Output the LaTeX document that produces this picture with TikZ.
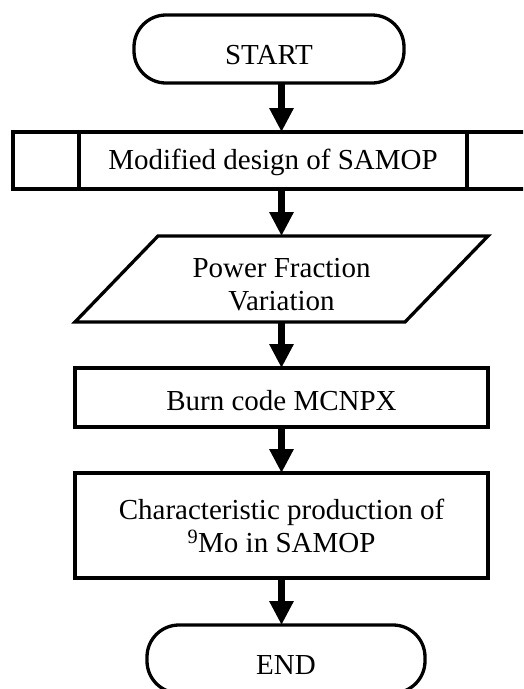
\documentclass[tikz,border=0pt]{standalone}
\usepackage{fontspec}
\setmainfont{Liberation Serif}
\usetikzlibrary{arrows.meta}
\begin{document}
\begin{tikzpicture}[x=1pt,y=-1pt,
  txt/.style={inner sep=0pt, outer sep=0pt, align=center, font=\fontsize{29}{33}\selectfont},
  box/.style={txt, draw, line width=3.3pt, rectangle},
  term/.style={box, rounded corners=32pt, text height=31pt, text depth=0pt},
  sideline/.style={line width=3.3pt},
  arr/.style={line width=7pt, -{Triangle[length=24pt,width=23pt]}}]
\useasboundingbox (0,0) rectangle (523,689);
\clip (0,0) rectangle (523,689);
\node[term, minimum width=270pt, minimum height=68pt] (start) at (269,49) {START};
\node[box, minimum width=520pt, minimum height=57pt, text depth=2pt] (mod) at (273,160.5) {Modified design of SAMOP};
\draw[sideline] ([xshift=66pt]mod.north west) -- ([xshift=66pt]mod.south west);
\draw[sideline] ([xshift=-66pt]mod.north east) -- ([xshift=-66pt]mod.south east);
\node[txt, minimum width=330pt, minimum height=86pt, text height=62pt, text depth=0pt] (io) at (281.5,279) {Power Fraction\\Variation};
\draw[sideline] ([xshift=41.5pt]io.north west) -- ([xshift=41.5pt]io.north east) -- ([xshift=-41.5pt]io.south east) -- ([xshift=-41.5pt]io.south west) -- cycle;
\node[box, minimum width=413pt, minimum height=59pt, text height=25pt, text depth=0pt] (burn) at (281.5,397.5) {Burn code MCNPX};
\node[box, minimum width=413pt, minimum height=105pt] (char) at (281.5,525.5) {Characteristic production of\\\textsuperscript{9}Mo in SAMOP};
\node[term, minimum width=278pt, minimum height=68pt] (stop) at (286,659) {END};
\draw[arr] (start.south -| burn.north) -- (mod.north -| burn.north);
\draw[arr] (mod.south -| burn.north) -- (io.north -| burn.north);
\draw[arr] (io.south -| burn.north) -- (burn.north);
\draw[arr] (burn.south) -- (char.north);
\draw[arr] (char.south) -- (stop.north -| char.south);
\end{tikzpicture}
\end{document}
